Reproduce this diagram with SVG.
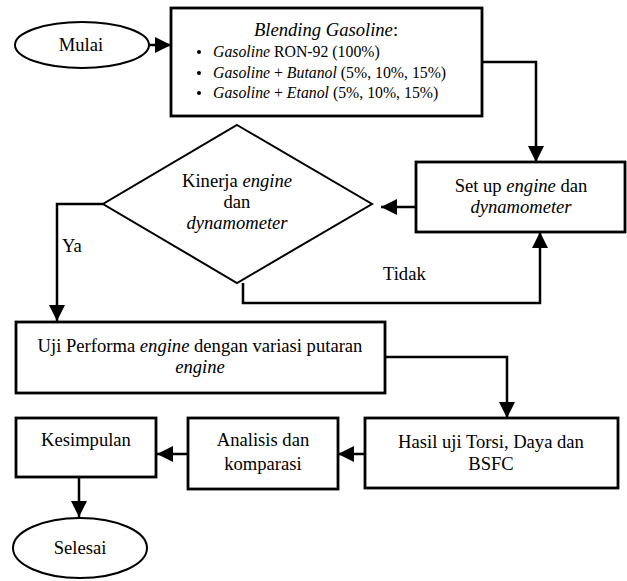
<svg xmlns="http://www.w3.org/2000/svg" width="627" height="581" viewBox="0 0 627 581">
<defs>
<style>
.box{fill:#fff;stroke:#000;stroke-width:2.8}
.shape{fill:#fff;stroke:#000;stroke-width:2}
.conn{fill:none;stroke:#000;stroke-width:2.5;marker-end:url(#ah)}
text{font-family:"Liberation Serif","Times New Roman",serif;font-size:18.6px;fill:#000}
.c{text-anchor:middle}
.s{font-size:15.8px}
.i{font-style:italic}
</style>
<marker id="ah" viewBox="0 0 16 16" refX="16" refY="8" markerWidth="16" markerHeight="16" markerUnits="userSpaceOnUse" orient="auto">
<path d="M0,0 L16,8 L0,16 z" fill="#000"/>
</marker>
</defs>
<g id="connectors">
<path class="conn" d="M149,45 H171"/>
<path class="conn" d="M482,62 H536 V162"/>
<path class="conn" d="M416,207 H381"/>
<path class="conn" d="M103,204 H57 V321"/>
<path class="conn" d="M243,283 V303 H540 V232"/>
<path class="conn" d="M385,357 H507 V418"/>
<path class="conn" d="M365,454 H338"/>
<path class="conn" d="M188,454 H157"/>
<path class="conn" d="M79,477 V517"/>
<text x="62" y="252">Ya</text>
<text x="383" y="280">Tidak</text>
</g>
<g id="mulai">
<ellipse class="shape" cx="82" cy="45" rx="67" ry="23"/>
<text class="c" x="81" y="51">Mulai</text>
</g>
<g id="blending">
<rect class="box" x="171" y="8" width="311" height="108"/>
<text class="c" x="326" y="36"><tspan class="i">Blending Gasoline</tspan>:</text>
<circle cx="199" cy="52" r="2"/>
<circle cx="199" cy="73" r="2"/>
<circle cx="199" cy="93" r="2"/>
<text class="s" x="213" y="57"><tspan class="i">Gasoline</tspan> RON-92 (100%)</text>
<text class="s" x="213" y="78"><tspan class="i">Gasoline</tspan> + <tspan class="i">Butanol</tspan> (5%, 10%, 15%)</text>
<text class="s" x="213" y="98"><tspan class="i">Gasoline</tspan> + <tspan class="i">Etanol</tspan> (5%, 10%, 15%)</text>
</g>
<g id="setup">
<rect class="box" x="416" y="162" width="209" height="70"/>
<text class="c" x="521" y="192">Set up <tspan class="i">engine</tspan> dan</text>
<text class="c i" x="521" y="213">dynamometer</text>
</g>
<g id="kinerja">
<polygon class="shape" points="237,125 372,204 237,283 103,204"/>
<text class="c" x="237" y="187">Kinerja <tspan class="i">engine</tspan></text>
<text class="c" x="237" y="208">dan</text>
<text class="c i" x="237" y="229">dynamometer</text>
</g>
<g id="uji">
<rect class="box" x="16" y="322" width="369" height="71"/>
<text class="c" x="200" y="352">Uji Performa <tspan class="i">engine</tspan> dengan variasi putaran</text>
<text class="c i" x="200" y="373">engine</text>
</g>
<g id="hasil">
<rect class="box" x="365" y="418" width="253" height="70"/>
<text class="c" x="491" y="448">Hasil uji Torsi, Daya dan</text>
<text class="c" x="491" y="470">BSFC</text>
</g>
<g id="analisis">
<rect class="box" x="188" y="418" width="150" height="71"/>
<text class="c" x="263" y="446">Analisis dan</text>
<text class="c" x="263" y="470">komparasi</text>
</g>
<g id="kesimpulan">
<rect class="box" x="16" y="418" width="140" height="59"/>
<text class="c" x="86" y="446">Kesimpulan</text>
</g>
<g id="selesai">
<ellipse class="shape" cx="80" cy="548" rx="67" ry="30"/>
<text class="c" x="80" y="554">Selesai</text>
</g>
</svg>
